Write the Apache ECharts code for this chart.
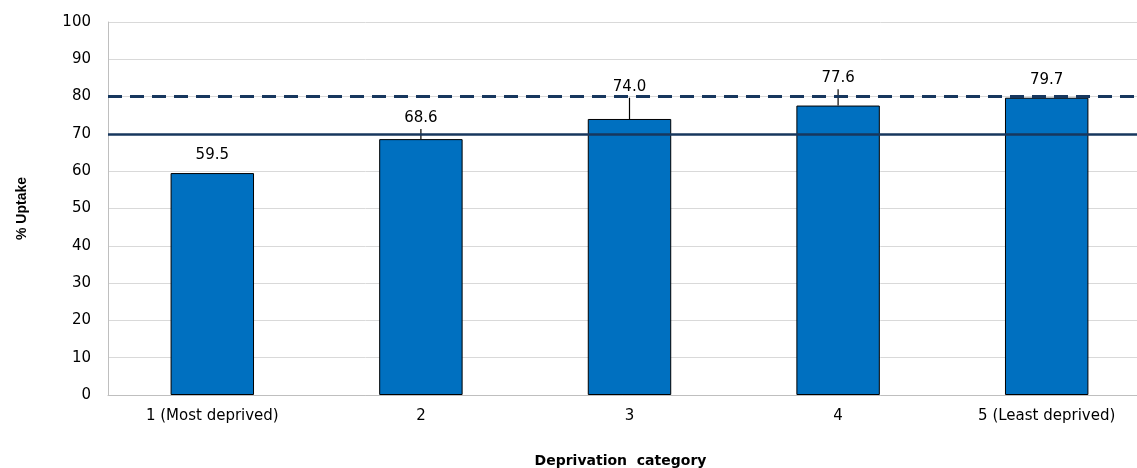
<!DOCTYPE html>
<html>
<head>
<meta charset="utf-8">
<script src="https://cdn.jsdelivr.net/npm/echarts@6/dist/echarts.min.js"></script>
<style>
html,body{margin:0;padding:0;background:#fff;}
#chart{width:1137px;height:468px;}
</style>
</head>
<body>
<div id="chart"></div>
<script>
const categories = ['1 (Most deprived)', '2', '3', '4', '5 (Least deprived)'];
const uptake = [59.5, 68.6, 74.0, 77.6, 79.7];
const upperCI = [59.5, 71.3, 79.7, 82.0, 79.7];
const targetSolid = 70;
const targetDashed = 80;
const yTicks = { min: 0, max: 100, interval: 10 };

const chart = echarts.init(document.getElementById('chart'), null, { renderer: 'canvas' });
const FONT = '"DejaVu Sans", "Liberation Sans", Arial, sans-serif';

chart.setOption({
  animation: false,
  grid: { left: 108, width: 1043, top: 22, height: 373, containLabel: false, outerBoundsMode: 'none' },
  xAxis: {
    type: 'category',
    data: categories,
    axisLine: { show: true, lineStyle: { color: '#BFBFBF', width: 1 } },
    axisTick: { show: false },
    axisLabel: { color: '#000', fontFamily: FONT, fontSize: 15, margin: 14 },
    name: 'Deprivation  category',
    nameLocation: 'middle',
    nameGap: 59,
    nameTextStyle: { color: '#000', fontFamily: FONT, fontSize: 14, fontWeight: 'bold', verticalAlign: 'top', padding: [0, 18, 0, 0] }
  },
  yAxis: {
    type: 'value',
    min: yTicks.min, max: yTicks.max, interval: yTicks.interval,
    axisLine: { show: true, lineStyle: { color: '#BFBFBF', width: 1 } },
    axisTick: { show: false },
    splitLine: { show: true, lineStyle: { color: '#D9D9D9', width: 1 } },
    axisLabel: { color: '#000', fontFamily: FONT, fontSize: 15, margin: 17 },
    name: '% Uptake',
    nameLocation: 'middle',
    nameGap: 86,
    nameTextStyle: { color: '#000', fontFamily: '"Liberation Sans", Arial, sans-serif', fontSize: 14, fontWeight: 'bold', verticalAlign: 'middle', padding: [0, 0, 0, 0] }
  },
  series: [
    {
      type: 'custom',
      z: 1,
      data: uptake.map((v, i) => [i, v, upperCI[i]]),
      renderItem: function (params, api) {
        const i = api.value(0);
        const v = api.value(1);
        const u = api.value(2);
        const p0 = api.coord([i, v]);
        const p1 = api.coord([i, u]);
        return {
          type: 'line',
          shape: { x1: p0[0], y1: p0[1], x2: p1[0], y2: p1[1] },
          style: { stroke: '#000', lineWidth: 1.2 },
          silent: true
        };
      }
    },
    {
      type: 'bar',
      z: 2,
      data: uptake,
      barWidth: '40%',
      itemStyle: { color: '#0070C0', borderColor: '#000', borderWidth: 1 },
      markLine: {
        silent: true,
        symbol: 'none',
        label: { show: false },
        z: 5,
        data: [
          { yAxis: targetSolid, lineStyle: { color: '#17375E', width: 2.5, type: 'solid' } },
          { yAxis: targetDashed, lineStyle: { color: '#17375E', width: 3, type: [14, 8] } }
        ]
      }
    },
    {
      type: 'custom',
      z: 6,
      data: uptake.map((v, i) => [i, v, upperCI[i]]),
      renderItem: function (params, api) {
        const i = api.value(0);
        const v = api.value(1);
        const u = api.value(2);
        const pv = api.coord([i, v]);
        const pu = api.coord([i, u]);
        const y = u > v ? pu[1] - 11 : pv[1] - 18;
        return {
          type: 'text',
          style: {
            x: pv[0], y: y,
            text: v.toFixed(1),
            fill: '#000',
            font: '15px ' + FONT,
            textAlign: 'center',
            textVerticalAlign: 'middle'
          },
          silent: true
        };
      }
    }
  ]
});
</script>
</body>
</html>
